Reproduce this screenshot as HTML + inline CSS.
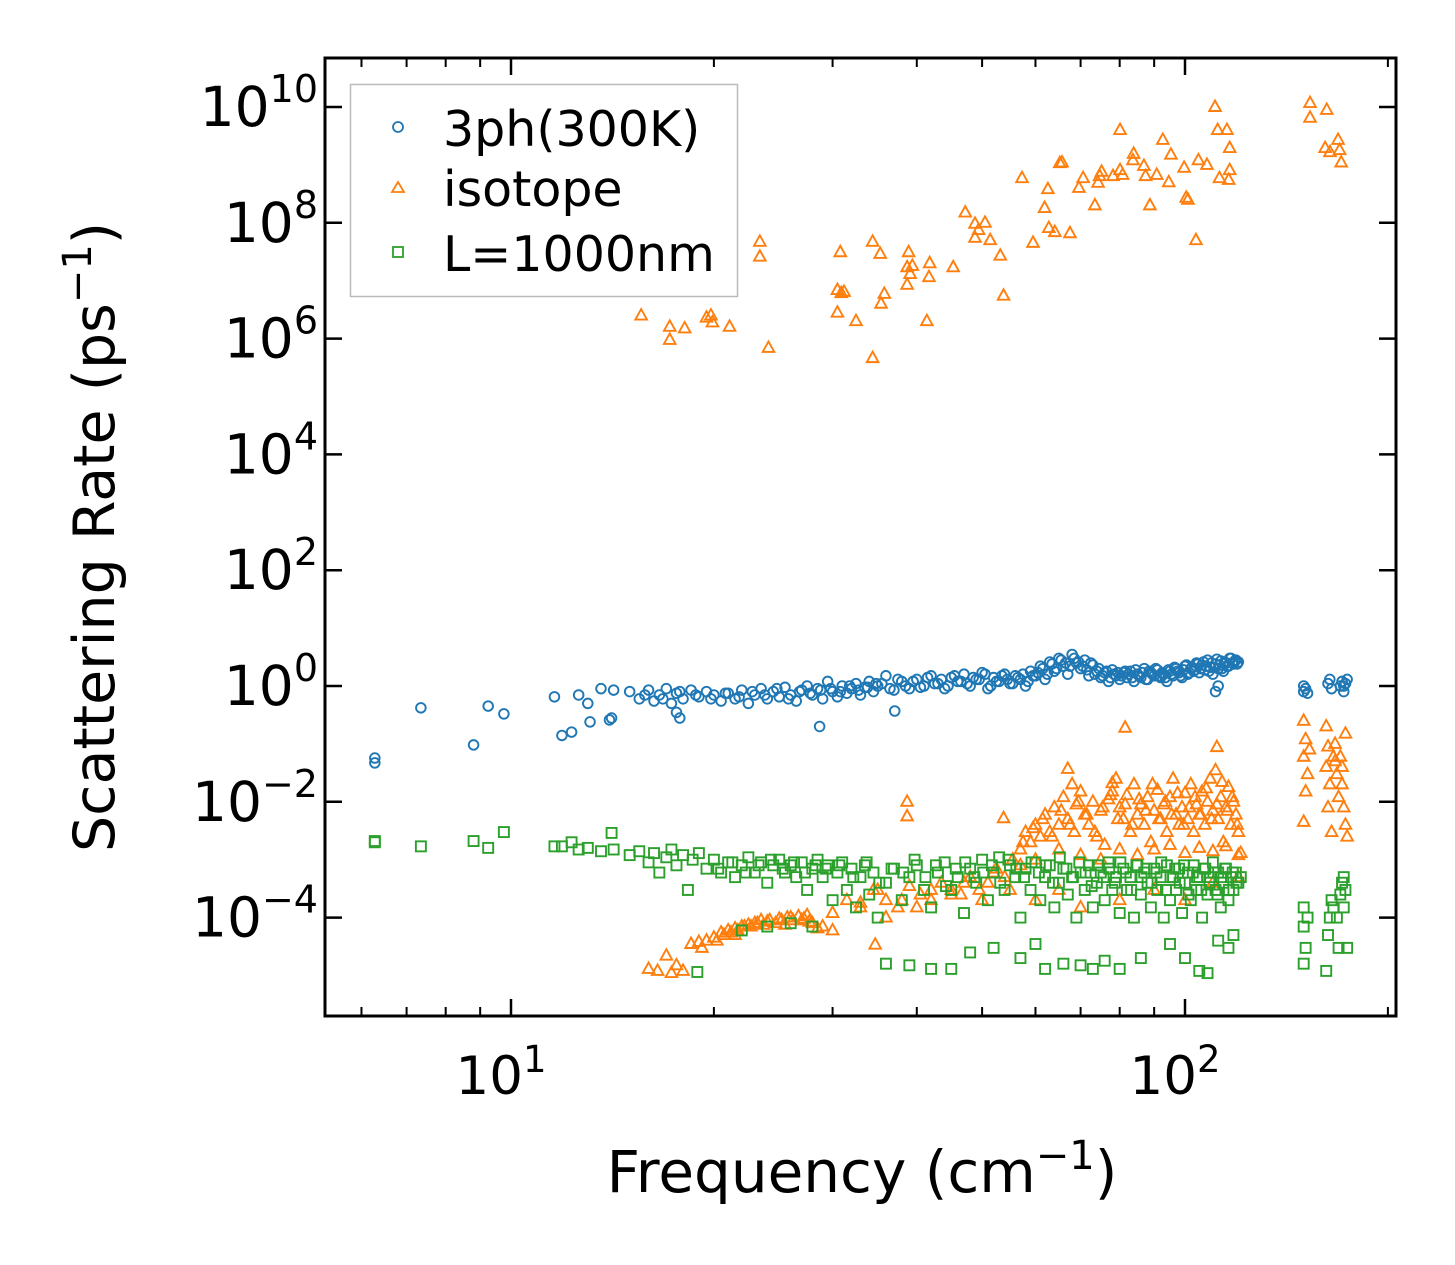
<!DOCTYPE html>
<html><head><meta charset="utf-8"><style>
html,body{margin:0;padding:0;background:#fff;}
svg{display:block;font-family:"DejaVu Sans","Liberation Sans",sans-serif;}
</style></head><body>
<svg id="chart" width="1455" height="1265" viewBox="0 0 1455 1265" xmlns="http://www.w3.org/2000/svg">
<rect x="0" y="0" width="1455" height="1265" fill="#fff"/>
<g id="marks"></g>
<g id="axes"></g>
<text x="862" y="1192" font-size="58" text-anchor="middle">Frequency (cm<tspan dy="-23" font-size="40">−1</tspan><tspan dy="23">)</tspan></text>
<text transform="translate(114,537) rotate(-90)" font-size="57" text-anchor="middle">Scattering Rate (ps<tspan dy="-23" font-size="40">−1</tspan><tspan dy="23">)</tspan></text>
<g>
<rect x="350.5" y="84.5" width="387" height="212" fill="#fff" fill-opacity="0.8" stroke="#bbb" stroke-width="1.5"/>
<circle cx="398" cy="127" r="5" fill="none" stroke="#1f77b4" stroke-width="1.8"/>
<text x="443" y="146" font-size="49">3ph(300K)</text>
<polygon points="398,182 404,192 392,192" fill="none" stroke="#ff7f0e" stroke-width="1.8"/>
<text x="443" y="206" font-size="49">isotope</text>
<rect x="393" y="247" width="10" height="10" fill="none" stroke="#2ca02c" stroke-width="1.8"/>
<text x="443" y="271" font-size="49">L=1000nm</text>
</g>
</svg>
<script>
const phFreq=[6.28,6.28,7.35,8.8,9.25,9.76,11.6,11.9,12.3,12.6,13.0,13.1,13.6,14.0,14.2,14.1,
15,15.5,16,16.3,16.6,17,17.3,17.6,18,18.5,19,19.5,20,20.5,21,21.5,22,22.5,23,23.5,24,24.5,25,25.5,26,26.5,27,27.5,28,28.5,29,29.5,30,30.5,31,31.5,32,32.5,33,33.5,34,34.5,35,36,37,38,39,40,41,42,43,44,45,46,47,48,49,50,51,52,53,54,55,56,57,58,59,60,61,62,63,64,65,66,67,68,69,70,71,72,73,74,75,76,77,78,79,80,81,82,83,84,85,86,87,88,89,90,91,92,93,94,95,96,97,98,99,100,101,102,103,104,105,106,107,108,109,110,111,112,113,114,115,116,117,118,119,120,111,112,
28.7,37.1,17.8,17.6,150,150,151,152,163,164,165,170,171,172,173,174,172];
const phRate=[0.047,0.057,0.42,0.096,0.45,0.33,0.65,0.14,0.16,0.7,0.5,0.24,0.9,0.26,0.85,0.28,
0.8,0.6,0.85,0.55,0.7,0.9,0.5,0.75,0.6,0.85,0.65,0.8,0.7,0.55,0.75,0.6,0.85,0.5,0.7,0.9,0.6,0.8,0.65,0.95,0.7,0.55,0.85,1.0,0.7,0.9,0.6,1.2,0.8,0.65,1.0,0.75,0.9,1.1,0.7,0.95,1.2,0.8,1.0,1.5,0.85,1.2,0.9,1.3,1.0,1.5,1.1,0.9,1.4,1.2,1.6,1.0,1.3,1.7,0.9,1.4,1.2,1.6,1.1,1.5,1.3,1.0,1.8,1.5,2.2,1.3,2.6,1.8,3.0,2.2,1.6,3.5,2.5,2.0,2.8,1.5,2.3,1.8,1.4,1.7,1.2,1.9,1.5,1.3,1.7,1.4,1.8,1.2,1.6,1.4,2.0,1.3,1.7,1.5,1.9,1.4,1.6,1.2,1.8,1.5,2.0,1.7,1.4,2.2,1.6,2.0,1.8,2.5,1.7,2.3,1.9,2.8,2.1,1.6,2.4,2.0,2.7,1.8,2.5,2.2,3.0,2.4,2.8,2.6,0.8,1.0,
0.2,0.37,0.28,0.35,0.8,1.0,0.9,0.75,1.1,1.3,0.9,1.0,1.2,0.8,1.1,1.3,1.0];
const phFreqExtra=[15.8,16.8,17.8,18.8,19.8,20.8,21.8,22.8,23.8,24.8,25.8,26.8,27.8,28.8,29.8,30.8,31.8,32.8,33.8,34.8,
35.5,36.5,37.5,38.5,39.5,40.5,41.5,42.5,43.5,44.5,45.5,46.5,47.5,48.5,49.5,50.5,51.5,52.5,53.5,54.5,55.5,56.5,57.5,58.5,59.5,
60.5,61.5,62.5,63.5,64.5,65.5,66.5,67.5,68.5,69.5,70.5,71.5,72.5,73.5,74.5,75.5,76.5,77.5,78.5,79.5,
80.5,81.5,82.5,83.5,84.5,85.5,86.5,87.5,88.5,89.5,90.5,91.5,92.5,93.5,94.5,95.5,96.5,97.5,98.5,99.5,100.5,101.5,102.5,103.5,104.5,105.5,106.5,107.5,108.5,109.5,110.5,111.5,112.5,113.5,114.5,115.5,116.5,117.5,118.5,119.5];
const phRateExtra=[0.7,0.6,0.8,0.7,0.6,0.75,0.65,0.8,0.7,0.9,0.6,0.8,0.75,0.85,0.9,0.8,1.0,0.85,0.95,1.1,
1.1,0.9,1.3,1.0,1.2,0.95,1.4,1.1,1.3,1.0,1.5,1.2,1.1,1.4,1.3,1.6,1.0,1.2,1.5,1.3,1.1,1.4,1.6,1.2,1.5,
1.7,2.0,1.6,2.4,2.0,2.8,2.5,2.2,3.0,2.6,2.2,1.9,2.5,1.6,2.0,1.5,1.8,1.4,1.6,1.7,
1.5,1.8,1.6,1.4,1.9,1.5,1.7,1.3,1.8,1.6,2.0,1.5,1.7,1.4,1.9,1.6,2.1,1.8,1.5,1.9,2.3,1.7,2.1,1.9,2.4,2.0,2.6,2.2,1.8,2.5,2.1,2.9,2.3,2.0,2.6,2.2,3.0,2.5,2.7,2.4];
const isoFreq=[15.6,17.2,17.2,18.1,19.5,19.8,19.9,21.1,23.4,23.4,24.1,30.5,30.8,30.9,31.2,30.5,32.5,34.4,34.4,35.3,35.4,35.8,38.7,38.7,38.9,39.1,39.4,41.7,41.8,41.4,45.3,47.2,48.8,49.4,50.5,48.8,51.4,53.2,53.8,57.3,59.5,61.9,62.6,62.8,64.1,65.2,65.7,67.5,69.6,70.6,73.5,74.3,74.7,75.2,78.2,80.1,80.1,80.8,83.7,83.9,87.4,88.7,86.9,90.8,92.7,94.6,95.3,100.4,99.7,101,103.8,104.7,107.8,110.8,111.8,112.5,115.4,116.5,116.1,116.5,153.3,153.3,162.3,161.4,164.1,168.7,169.6,170.5,
16.0,16.5,17.0,17.3,17.6,18.0,18.5,19.0,19.5,20.0,20.5,21.0,21.5,22.0,22.5,23.0,24.0,25.0,26.0,27.0,28.0,29.0,30.0,19.2,21.5,23.5,25.5,27.5,28.5,
57,58,59,60,61,62,63,64,65,66,67,68,68.5,69,70,71,72,73,74,75,76,77,78,79,80,81,82,83,84,85,86,87,88,89,90,91,92,93,94,95,96,97,98,99,100,101,102,103,104,105,106,107,108,109,110,111,112,113,114,115,116,117,118,119,120,60,65,70,75,80,85,90,95,100,105,110,115,120,120,
35,38,40,42,45,47,50,52,55,57,33,36,60,65,70,80,90,100,110,34.7,
81.5,111.5,67,78,38.7,38.7,53.8,121,
150,151,150,152,151,150,153,162,163,162,164,163,165,167,168,167,169,170,171,172,173,174,173,171,166];
const isoRate=[2.5e6,1.6e6,9.5e5,1.5e6,2.3e6,2.5e6,1.9e6,1.6e6,4.7e7,2.6e7,6.9e5,6.9e6,3.1e7,6.1e6,6.4e6,2.8e6,2.0e6,4.7e7,4.6e5,2.9e7,4.0e6,5.9e6,8.5e6,1.7e7,3.1e7,1.3e7,1.8e7,1.15e7,2.0e7,2.0e6,1.7e7,1.5e8,5.5e7,7.5e7,1.0e8,9.6e7,5.0e7,2.7e7,5.5e6,5.9e8,4.5e7,1.8e8,3.8e8,8.1e7,6.9e7,1.07e9,1.1e9,6.6e7,4.0e8,5.9e8,2.0e8,4.9e8,6.4e8,7.6e8,6.4e8,4.0e9,8.1e8,6.7e8,1.2e9,1.55e9,6.4e8,2.0e8,9.6e8,6.7e8,2.7e9,5.0e8,1.5e9,2.7e8,8.9e8,2.5e8,5.0e7,1.2e9,1.0e9,1e10,4.0e9,5.9e8,4.0e9,8.1e8,5.5e8,1.95e9,1.17e10,6.5e9,8.9e9,1.95e9,1.66e9,2.7e9,1.8e9,1.1e9,
1.3e-5,1.2e-5,2.2e-5,1.1e-5,1.5e-5,1.2e-5,3.5e-5,3.8e-5,4.0e-5,4.5e-5,5.5e-5,6e-5,6.5e-5,7e-5,7.5e-5,8e-5,8.5e-5,9.5e-5,1.0e-4,9e-5,8e-5,7e-5,6e-5,3e-5,5e-5,9e-5,7.5e-5,1.1e-4,6.5e-5,
1.5e-3,3e-3,2e-3,4e-3,2.5e-3,6e-3,3e-3,8e-3,4e-3,1.2e-2,5e-3,2e-2,3e-3,9e-3,1.5e-2,6e-3,4e-3,1e-2,2.5e-3,7e-3,1.8e-3,1.1e-2,1.5e-2,2.5e-2,8e-3,5e-3,1.3e-2,3e-3,2e-2,6e-3,9e-3,4e-3,1.2e-2,2e-3,7e-3,1.6e-2,5e-3,9e-3,3e-3,1.2e-2,2.5e-2,6e-3,4e-3,8e-3,1.4e-2,5e-3,2e-2,3e-3,9e-3,6e-3,1.5e-2,4e-3,1e-2,2.5e-2,7e-3,3.5e-2,5e-3,1.2e-2,2e-3,8e-3,1.8e-2,4e-3,1e-2,6e-3,3e-3,1e-3,1.5e-3,1.2e-3,1e-3,1.5e-3,1.2e-3,1.5e-3,1.8e-3,1.3e-3,1.6e-3,1.4e-3,1.7e-3,1.2e-3,5e-4,
3e-4,2e-4,1.5e-4,3e-4,2.5e-4,4e-4,2e-4,6e-4,3e-4,8e-4,1.5e-4,1e-4,2e-4,3e-4,1.5e-4,2e-4,3e-4,2e-4,4e-4,3.4e-5,
0.19,0.088,0.037,0.021,1e-2,5.6e-3,5.2e-3,1.3e-3,
0.25,0.12,0.06,0.03,0.015,0.0045,0.08,0.2,0.09,0.04,0.02,0.008,0.003,0.05,0.03,0.1,0.012,0.06,0.02,0.008,0.004,0.0025,0.15,0.04,0.06];
const isoFreqExtra=[57.5,59.5,61.5,63.5,65.5,67.5,69.5,71.5,73.5,75.5,77.5,79.5,81.5,83.5,85.5,87.5,89.5,91.5,93.5,95.5,97.5,99.5,101.5,103.5,105.5,107.5,109.5,111.5,113.5,115.5,117.5,119.5,
30,31.5,33,34.5,36,37.5,39,40.5,42,43.5,45,46.5,48,49.5,51,52.5,54,55.5,
20.2,20.7,21.2,21.7,22.2,22.7,23.2,23.7,24.2,24.7,25.2,25.7,26.2,26.7,27.2,27.7];
const isoRateExtra=[2e-3,3.5e-3,5e-3,2.5e-3,7e-3,4e-3,1e-2,6e-3,3e-3,8e-3,1.3e-2,5e-3,9e-3,4e-3,1.1e-2,7e-3,2e-2,5e-3,1e-2,6e-3,1.4e-2,4e-3,8e-3,1.2e-2,6e-3,1.7e-2,5e-3,9e-3,2.2e-2,7e-3,1.2e-2,4e-3,
1.2e-4,2e-4,1.8e-4,3e-4,2e-4,1.5e-4,3.5e-4,2.5e-4,2e-4,4e-4,3e-4,2.5e-4,5e-4,3e-4,4e-4,7e-4,5e-4,1e-3,
4e-5,5e-5,5.5e-5,6e-5,7e-5,7e-5,8e-5,7.5e-5,9e-5,8e-5,9e-5,1e-4,9e-5,1.05e-4,9.5e-5,8.5e-5];
const bdFreq=[6.28,6.28,7.35,8.8,9.25,9.76,11.6,11.9,12.3,12.6,13.0,13.6,14.1,14.2,
15,15.5,16,16.3,16.6,17,17.3,17.6,18,18.3,18.6,19,19.5,20,20.5,21,21.5,22,22.5,23,23.5,24,24.5,25,25.5,26,26.5,27,27.5,28,28.5,29,29.5,30,30.5,31,31.5,32,32.5,33,33.5,34,34.5,35,36,37,38,39,40,41,42,43,44,45,46,47,48,49,50,51,52,53,54,55,56,57,58,59,60,61,62,63,64,65,66,67,68,69,70,71,72,73,74,75,76,77,78,79,80,81,82,83,84,85,86,87,88,89,90,91,92,93,94,95,96,97,98,99,100,101,102,103,104,105,106,107,108,109,110,111,112,113,114,115,116,117,118,119,120,121,
22,24,26,28,18.9,36,39,42,45,48,52,57,60,62,66,70,73,76,80,86,95,100,105,108,112,116,118,
150,150,150,151,152,162,163,164,165,166,168,169,170,171,172,172,173,174];
const bdRate=[2.1e-3,2.0e-3,1.7e-3,2.1e-3,1.6e-3,3.0e-3,1.7e-3,1.7e-3,2e-3,1.5e-3,1.6e-3,1.4e-3,2.9e-3,1.5e-3,
1.2e-3,1.4e-3,9e-4,1.3e-3,6e-4,1.1e-3,1.5e-3,8e-4,1.2e-3,3e-4,1e-3,1.3e-3,7e-4,1e-3,6e-4,9e-4,5e-4,8e-4,1.1e-3,6e-4,9e-4,4e-4,8e-4,1e-3,6e-4,8e-4,5e-4,9e-4,3e-4,7e-4,1e-3,5e-4,8e-4,2e-4,6e-4,9e-4,3e-4,7e-4,1.5e-4,5e-4,8e-4,2.5e-4,6e-4,1e-4,4e-4,7e-4,2e-4,5e-4,8e-4,3e-4,1.5e-4,6e-4,9e-4,3e-4,5e-4,1.2e-4,7e-4,4e-4,1e-3,2e-4,6e-4,1.1e-3,3e-4,8e-4,5e-4,1e-4,7e-4,3e-4,9e-4,2e-4,5e-4,8e-4,1.5e-4,4e-4,7e-4,2.5e-4,5e-4,1e-4,6e-4,3e-4,8e-4,1.5e-4,4e-4,6e-4,2e-4,9e-4,3e-4,5e-4,1.2e-4,7e-4,3e-4,5e-4,1e-4,8e-4,2.5e-4,6e-4,4e-4,1.5e-4,7e-4,3e-4,5e-4,1e-4,8e-4,2e-4,5e-4,3e-4,7e-4,1.2e-4,4e-4,6e-4,2e-4,8e-4,3e-4,5e-4,1e-4,7e-4,2.5e-4,5e-4,9e-4,3e-4,6e-4,1.5e-4,4e-4,7e-4,2e-4,5e-4,3e-4,6e-4,4e-4,5e-4,
6e-5,7e-5,8e-5,7e-5,1.15e-5,1.6e-5,1.5e-5,1.3e-5,1.3e-5,2.5e-5,3e-5,2e-5,3.5e-5,1.3e-5,1.6e-5,1.5e-5,1.3e-5,1.8e-5,1.3e-5,2e-5,3.5e-5,2e-5,1.2e-5,1.1e-5,4e-5,3e-5,5e-5,
1.5e-4,7e-5,1.6e-5,3e-5,1e-4,1.2e-5,5e-5,1e-4,2e-4,1.5e-4,1e-4,3e-5,2.5e-4,4e-4,5e-4,1.5e-4,3e-4,3e-5];
const bdFreqExtra=[20.3,21.3,22.3,23.3,24.3,25.3,26.3,27.3,28.3,29.3,
30.7,32.2,33.7,35.2,36.7,38.2,39.7,41.2,42.7,44.2,45.7,47.2,48.7,50.2,51.7,53.2,54.7,56.2,57.7,59.2,60.7,62.2,63.7,65.2,66.7,68.2,69.7,71.2,72.7,74.2,75.7,77.2,78.7,80.2,81.7,83.2,84.7,86.2,87.7,89.2,90.7,92.2,93.7,95.2,96.7,98.2,99.7,101.2,102.7,104.2,105.7,107.2,108.7,110.2,111.7,113.2,114.7,116.2,117.7,119.2];
const bdRateExtra=[7e-4,9e-4,6e-4,8e-4,1e-3,7e-4,9e-4,6e-4,8e-4,7e-4,
8e-4,5e-4,9e-4,4e-4,7e-4,6e-4,1e-3,5e-4,8e-4,3.5e-4,7e-4,9e-4,5e-4,6e-4,8e-4,4e-4,1e-3,7e-4,5e-4,9e-4,6e-4,8e-4,4e-4,1.1e-3,7e-4,5e-4,9e-4,6e-4,3.5e-4,8e-4,5e-4,7e-4,4e-4,9e-4,6e-4,3e-4,8e-4,5e-4,7e-4,4e-4,6e-4,9e-4,3e-4,5e-4,7e-4,4e-4,8e-4,2.5e-4,6e-4,5e-4,3e-4,7e-4,4e-4,6e-4,2.5e-4,5e-4,7e-4,3e-4,6e-4,4e-4];
const xTickVals=[10,100];
const xTickExp=["1","2"];
const xMinorVals=[6,7,8,9,20,30,40,50,60,70,80,90,200];
const yTickExp=[-4,-2,0,2,4,6,8,10];

const L=325,R=1396,T=58,B=1016;
const X0=511,XD=674,Y0=686,YD=57.9;
const NS='http://www.w3.org/2000/svg';
function sx(f){return X0+XD*(Math.log10(f)-1);}
function sy(v){return Y0-YD*Math.log10(v);}
function mk(tag,attrs,parent){const e=document.createElementNS(NS,tag);for(const k in attrs)e.setAttribute(k,attrs[k]);parent.appendChild(e);return e;}
const marks=document.getElementById('marks');
const axes=document.getElementById('axes');
const gB=mk('g',{},marks);


const gI=mk('g',{},marks);


const gG=mk('g',{},marks);


const phF=phFreq.concat(phFreqExtra), phV=phRate.concat(phRateExtra);
const isF=isoFreq.concat(isoFreqExtra), isV=isoRate.concat(isoRateExtra);
const bF=bdFreq.concat(bdFreqExtra), bV=bdRate.concat(bdRateExtra);
phF.forEach((f,i)=>{
  const c=mk('circle',{cx:sx(f),cy:sy(phV[i]),r:4.8,fill:'none',stroke:'#1f77b4','stroke-width':1.9},gB);
  
  
});
isF.forEach((f,i)=>{
  const x=sx(f),y=sy(isV[i]);
  const p=mk('polygon',{points:`${x},${y-6.5} ${x+5.8},${y+4} ${x-5.8},${y+4}`,fill:'none',stroke:'#ff7f0e','stroke-width':1.9},gI);
  
  
});
bF.forEach((f,i)=>{
  const x=sx(f),y=sy(bV[i]);
  const r=mk('rect',{x:x-5,y:y-5,width:10,height:10,fill:'none',stroke:'#2ca02c','stroke-width':1.9},gG);
  
  
});
const frame=mk('rect',{x:L,y:T,width:R-L,height:B-T,fill:'none',stroke:'#000','stroke-width':3},axes);


xTickVals.forEach((v,i)=>{
  const x=sx(v);
  mk('line',{x1:x,x2:x,y1:B,y2:B-17,stroke:'#000','stroke-width':2.5},axes);
  mk('line',{x1:x,x2:x,y1:T,y2:T+17,stroke:'#000','stroke-width':2.5},axes);
  const t=mk('text',{x:x-10,y:1094,'font-size':53,'text-anchor':'middle'},axes);
  
  
  t.innerHTML=`10<tspan dy="-22" font-size="37">${xTickExp[i]}</tspan>`;
});
xMinorVals.forEach(v=>{
  const x=sx(v);
  if(x<L||x>R)return;
  mk('line',{x1:x,x2:x,y1:B,y2:B-9,stroke:'#000','stroke-width':2},axes);
  mk('line',{x1:x,x2:x,y1:T,y2:T+9,stroke:'#000','stroke-width':2},axes);
});
yTickExp.forEach(e=>{
  const y=sy(Math.pow(10,e));
  mk('line',{x1:L,x2:L+17,y1:y,y2:y,stroke:'#000','stroke-width':2.5},axes);
  mk('line',{x1:R,x2:R-17,y1:y,y2:y,stroke:'#000','stroke-width':2.5},axes);
  const lbl=e<0?'−'+(-e):String(e);
  const s=mk('text',{x:318,y:y-5,'font-size':38,'text-anchor':'end'},axes);
  
  
  s.textContent=lbl;
  const w=s.getComputedTextLength ? s.getComputedTextLength() : lbl.length*24;
  const t=mk('text',{x:318-w,y:y+19,'font-size':55,'text-anchor':'end'},axes);
  
  
  t.textContent='10';
});
</script>
</body></html>
